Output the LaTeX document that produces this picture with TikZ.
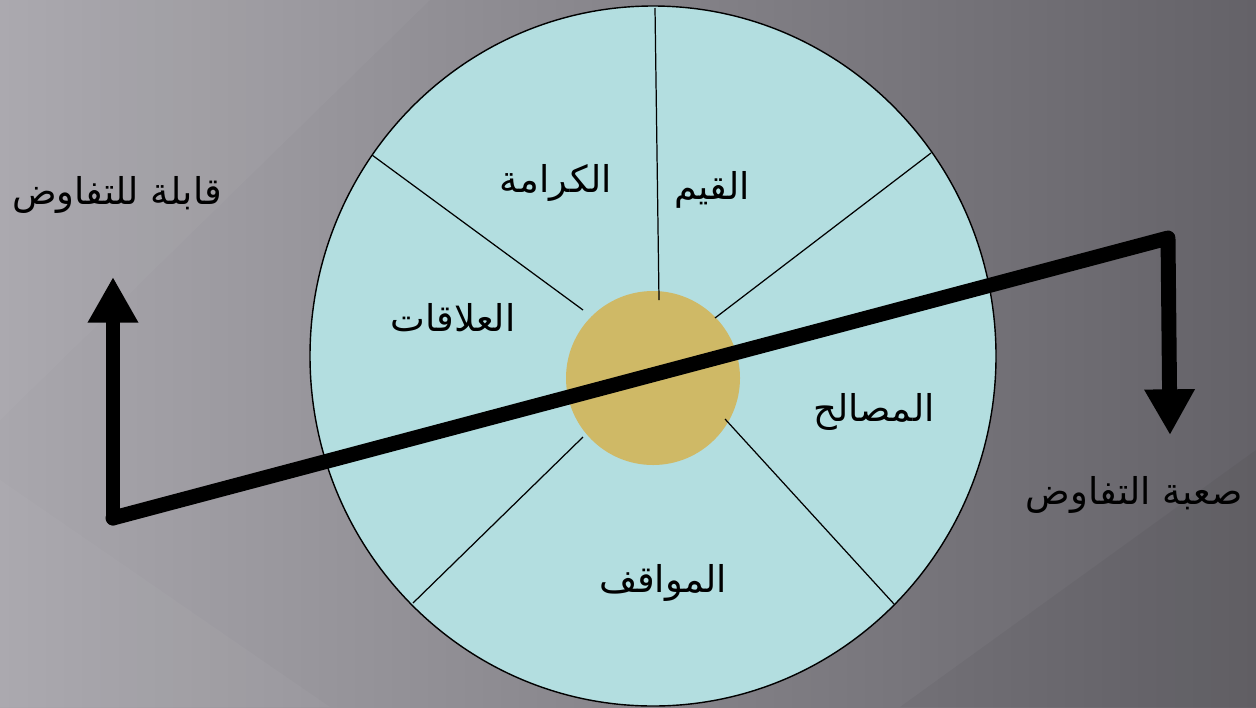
\documentclass[tikz,border=0pt]{standalone}
\usepackage{fontspec}
\usetikzlibrary{arrows.meta}
\TeXXeTstate=1
\newfontfamily\arabicfont[Script=Arabic]{DejaVu Sans}
\definecolor{bgleft}{HTML}{A9A7AD}
\definecolor{bgright}{HTML}{646268}
\definecolor{wheelfill}{HTML}{B3DEE0}
\definecolor{hubfill}{HTML}{CFB966}
\tikzset{
  label/.style={font=\arabicfont\fontsize{21}{25}\selectfont, text=black},
  spoke/.style={draw=black, line width=0.7pt},
  bigarrow/.style={line width=8.5pt, line cap=round, line join=round,
    -{Triangle[width=27pt, length=26pt]}}
}
\begin{document}
\begin{tikzpicture}[x=0.02cm, y=-0.02cm]
  % Background
  \useasboundingbox (0,0) rectangle (1256,707);
  \shade[left color=bgleft, right color=bgright] (0,0) rectangle (1256,707);
  \fill[white, opacity=0.03] (0,0) -- (430,0) -- (0,420) -- cycle;
  \fill[white, opacity=0.03] (0,480) -- (330,707) -- (0,707) -- cycle;
  \fill[black, opacity=0.04] (900,707) -- (1256,450) -- (1256,707) -- cycle;

  % Wheel
  \draw[fill=wheelfill, line width=0.8pt] (653,356) ellipse (343 and 350);

  % Hub
  \fill[hubfill] (653,378) circle (87);

  % Spokes
  \coordinate (topout) at (655,8);
  \coordinate (topin) at (659,300);
  \coordinate (tlout) at (372,155);
  \coordinate (tlin) at (583,310);
  \coordinate (trout) at (931,153);
  \coordinate (trin) at (715,318);
  \coordinate (blin) at (583,437);
  \coordinate (blout) at (413,603);
  \coordinate (brin) at (725,419);
  \coordinate (brout) at (894,604);
  \draw[spoke] (topout) -- (topin);
  \draw[spoke] (tlout) -- (tlin);
  \draw[spoke] (trout) -- (trin);
  \draw[spoke] (blin) -- (blout);
  \draw[spoke] (brin) -- (brout);

  % Segment labels
  \node[label] (dignity) at (556,183) {\beginR الكرامة\endR};
  \node[label] (values) at (712,190) {\beginR القيم\endR};
  \node[label] (relations) at (453,318) {\beginR العلاقات\endR};
  \node[label] (interests) at (874,412) {\beginR المصالح\endR};
  \node[label] (positions) at (663,583) {\beginR المواقف\endR};

  % Side labels
  \node[label] (easy) at (117,195) {\beginR قابلة للتفاوض\endR};
  \node[label] (hard) at (1134,495) {\beginR صعبة التفاوض\endR};

  % Lever
  \coordinate (lowend) at (113,518);
  \coordinate (uptip) at (113,277);
  \coordinate (highend) at (1168,238);
  \coordinate (downtip) at (1170,435);
  \draw[bigarrow] (lowend) -- (uptip);
  \draw[bigarrow] (lowend) -- (highend) -- (downtip);
\end{tikzpicture}
\end{document}
